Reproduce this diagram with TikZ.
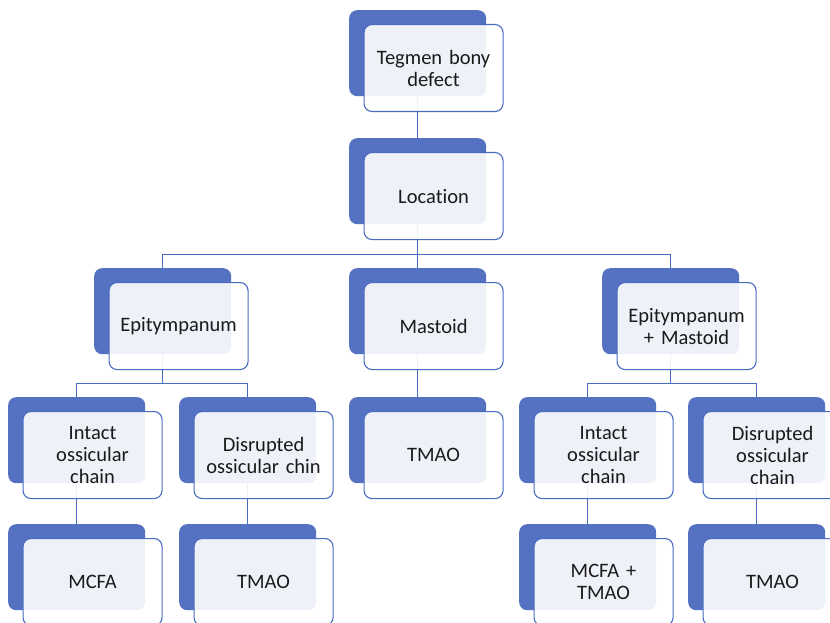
\documentclass[tikz,border=0pt]{standalone}
\usepackage{fontspec}
\setmainfont{Carlito}[Ligatures={NoCommon}]
\usetikzlibrary{positioning,backgrounds}
\definecolor{accent}{HTML}{5571C1}
\definecolor{edge}{HTML}{4A6CC0}
\definecolor{ink}{HTML}{1A1A1A}
\tikzset{
  backbox/.style={fill=accent, draw=none, rounded corners=8pt, inner sep=0pt,
                  minimum width=137pt, minimum height=86pt, anchor=north west},
  frontbox/.style={fill=white, fill opacity=0.9, text opacity=1, draw=edge,
                   line width=1.1pt, rounded corners=8pt, inner sep=0pt,
                   minimum width=139pt, minimum height=87pt, text width=132pt,
                   align=center, anchor=north west, text=ink,
                   font=\fontsize{20.5}{22}\selectfont},
  link/.style={draw=edge, line width=1pt}
}
% one card: blue back plate with the text plate on top of it
\newcommand{\card}[4]{%
  \node[backbox] (#1-b) at (#2,#3) {};
  \node[frontbox] (#1) at ([xshift=14.5pt,yshift=-14pt]#1-b.north west) {#4};
}

\begin{document}
\begin{tikzpicture}[x=1pt,y=-1pt]
  \useasboundingbox (0,0) rectangle (830,623);
  \clip (0,0) rectangle (830,623);

  \card{top}{349}{10}{Tegmen bony\\defect}
  \card{loc}{349}{138}{Location}

  \card{epi}{94}{268}{Epitympanum}
  \card{mas}{349}{268}{Mastoid}
  \card{epm}{602}{268}{Epitympanum\\+ Mastoid}

  \card{ic1}{8}{397}{Intact\\ossicular\\chain}
  \card{dc1}{179}{397}{Disrupted\\ossicular chin}
  \card{tm1}{349}{397}{TMAO}
  \card{ic2}{519}{397}{Intact\\ossicular\\chain}
  \card{dc2}{688}{397}{Disrupted\\ossicular\\chain}

  \card{mc1}{8}{524}{MCFA}
  \card{tm2}{179}{524}{TMAO}
  \card{mt3}{519}{524}{MCFA +\\TMAO}
  \card{tm4}{688}{524}{TMAO}

  \begin{scope}[on background layer]
    \fill[white] (0,0) rectangle (830,623);
    \draw[link] (top-b.center) -- (loc-b.center);
    \draw[link] (loc-b.center) -- ([yshift=-30pt]loc-b.south) coordinate (j1);
    \draw[link] (j1) -| (epi-b.center);
    \draw[link] (j1) -| (epm-b.center);
    \draw[link] (j1) -- (mas-b.center);

    \draw[link] (epi-b.center) -- ([yshift=-29pt]epi-b.south) coordinate (j2);
    \draw[link] (j2) -| (ic1-b.center);
    \draw[link] (j2) -| (dc1-b.center);
    \draw[link] (mas-b.center) -- (tm1-b.center);
    \draw[link] (epm-b.center) -- ([yshift=-29pt]epm-b.south) coordinate (j3);
    \draw[link] (j3) -| (ic2-b.center);
    \draw[link] (j3) -| (dc2-b.center);

    \draw[link] (ic1-b.center) -- (mc1-b.center);
    \draw[link] (dc1-b.center) -- (tm2-b.center);
    \draw[link] (ic2-b.center) -- (mt3-b.center);
    \draw[link] (dc2-b.center) -- (tm4-b.center);
  \end{scope}
\end{tikzpicture}
\end{document}
